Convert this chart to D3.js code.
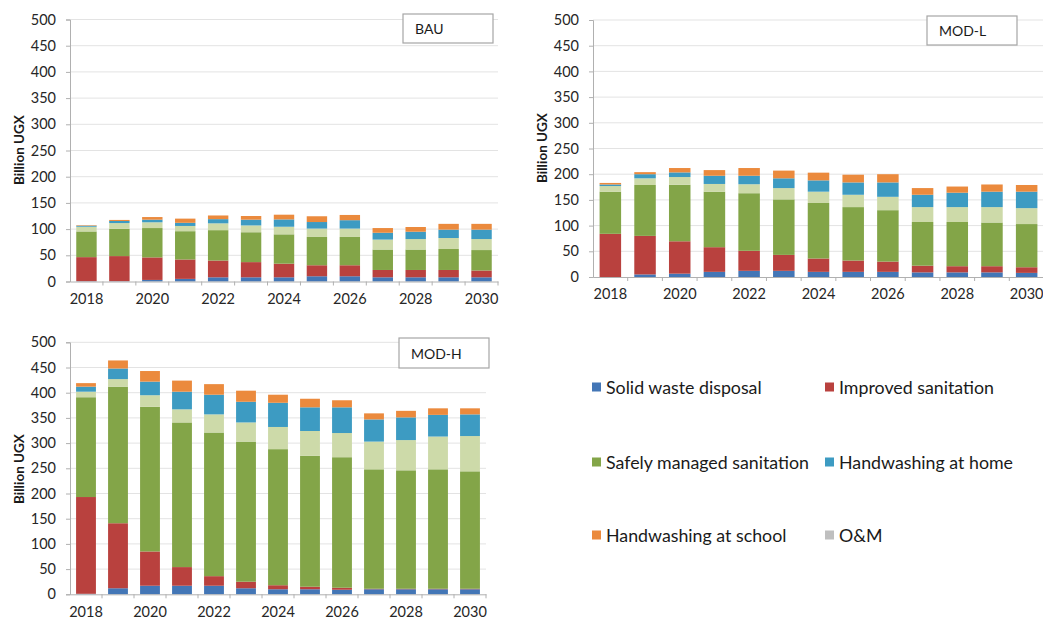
<!DOCTYPE html>
<html>
<head>
<meta charset="utf-8">
<script src="https://cdn.jsdelivr.net/npm/d3@7"></script>
<style>
  html, body { margin: 0; padding: 0; background: #fff; }
  svg { display: block; font-family: Lato, "Open Sans", sans-serif; }
</style>
</head>
<body>
<svg id="chart" width="1043" height="625"></svg>
<script>
// ---------- data ----------
const years = [2018, 2019, 2020, 2021, 2022, 2023, 2024, 2025, 2026, 2027, 2028, 2029, 2030];
const yearLabels = [2018, 2020, 2022, 2024, 2026, 2028, 2030];
const yTicks = [0, 50, 100, 150, 200, 250, 300, 350, 400, 450, 500];
const seriesNames = ["Solid waste disposal", "Improved sanitation", "Safely managed sanitation", "O&M", "Handwashing at home", "Handwashing at school"];
const scenarioNames = ["BAU", "MOD-L", "MOD-H"];

// BAU
const bauSolidWaste = [0.5, 0.5, 3, 5, 8, 8, 8, 10, 10, 8, 8, 8, 8];
const bauImproved   = [46, 48, 43, 37, 32, 29, 26, 21, 21, 14, 14, 14, 13];
const bauSafely     = [49, 52, 56, 54, 58, 57, 56, 54, 54, 39, 39, 40, 39];
const bauOM         = [9, 11, 11, 10, 13, 13, 14.5, 16, 16, 19, 20, 21, 21];
const bauHome       = [2, 4, 5, 6, 8, 11, 14, 12.5, 16, 13, 14, 16, 18];
const bauSchool     = [1, 2, 5, 8, 7, 7, 9, 11, 10, 9, 9, 11, 11];

// MOD-L
const modlSolidWaste = [0, 5, 6.5, 10, 12, 12, 10, 10, 10, 9, 9, 9, 8];
const modlImproved   = [84, 75, 63, 48, 39, 31, 26, 22, 20, 13, 12, 12, 11];
const modlSafely     = [82, 99, 110, 108, 112, 108, 108, 104, 100, 85, 86, 85, 84];
const modlOM         = [11, 13, 15, 15, 17.5, 22, 22, 24, 26, 29, 29, 30, 31];
const modlHome       = [3, 8, 9, 16, 16.5, 19, 22, 24, 28, 24, 28, 30, 32];
const modlSchool     = [3, 4, 8.5, 11, 15, 15, 15, 15, 16, 13, 12, 14, 13];

// MOD-H
const modhSolidWaste = [1, 12, 17, 17, 17, 12, 10, 10, 9, 10, 10, 10, 10];
const modhImproved   = [192, 129, 68, 37, 19, 13, 8, 5, 4, 1, 1, 1, 1];
const modhSafely     = [198, 271, 287, 287, 285, 278, 270, 260, 259, 237, 235, 237, 233];
const modhOM         = [11, 15, 23, 26, 36, 38, 44, 49, 48, 55, 60, 65, 70];
const modhHome       = [10, 21, 27, 35, 39, 41, 48, 47, 51, 44, 45, 43, 43];
const modhSchool     = [7, 16, 21, 22, 21, 22, 16, 17, 14, 12, 13, 13, 12];

// ---------- styles ----------
const barColors = {
  "Solid waste disposal": "#4376b6",
  "Improved sanitation": "#b9413e",
  "Safely managed sanitation": "#83a548",
  "O&M": "#cddaa9",
  "Handwashing at home": "#3d9bc2",
  "Handwashing at school": "#eb8a3d"
};
const legendColors = Object.assign({}, barColors, { "O&M": "#bfbfbf" });

const scenarioSeries = {
  "BAU":   [bauSolidWaste, bauImproved, bauSafely, bauOM, bauHome, bauSchool],
  "MOD-L": [modlSolidWaste, modlImproved, modlSafely, modlOM, modlHome, modlSchool],
  "MOD-H": [modhSolidWaste, modhImproved, modhSafely, modhOM, modhHome, modhSchool]
};

const panels = [
  { name: "BAU",   x0: 70,  x1: 498,  yTop: 19.5, yBot: 281.5, titleX: 19,  titleY: 150, box: [403, 14, 90, 29] },
  { name: "MOD-L", x0: 593, x1: 1044, yTop: 20,   yBot: 277,   titleX: 542, titleY: 148, box: [927, 16, 90, 29] },
  { name: "MOD-H", x0: 70,  x1: 486,  yTop: 342.3, yBot: 594.3, titleX: 19, titleY: 469, box: [399, 338, 90, 30] }
];

const svg = d3.select("#chart");

panels.forEach(p => {
  const series = scenarioSeries[p.name];
  const rows = years.map((yr, i) => {
    const r = { year: yr };
    seriesNames.forEach((s, k) => { r[s] = series[k][i]; });
    return r;
  });
  const stacked = d3.stack().keys(seriesNames)(rows);

  const x = d3.scaleBand().domain(years).range([p.x0, p.x1]).paddingInner(0.38).paddingOuter(0.19);
  const y = d3.scaleLinear().domain([0, 500]).range([p.yBot, p.yTop]);

  const g = svg.append("g");

  // gridlines
  g.append("g").selectAll("line").data(yTicks.filter(t => t > 0)).join("line")
    .attr("x1", p.x0).attr("x2", p.x1)
    .attr("y1", d => y(d)).attr("y2", d => y(d))
    .attr("stroke", "#e3e3e3").attr("stroke-width", 1);

  // bars
  g.append("g").selectAll("g").data(stacked).join("g")
    .attr("fill", d => barColors[d.key])
    .selectAll("rect").data(d => d).join("rect")
    .attr("x", d => x(d.data.year))
    .attr("width", x.bandwidth())
    .attr("y", d => y(d[1]))
    .attr("height", d => Math.max(0, y(d[0]) - y(d[1])));

  // y axis
  const yAxis = d3.axisLeft(y).tickValues(yTicks).tickSize(4).tickPadding(10);
  const ya = g.append("g").attr("transform", `translate(${p.x0},0)`).call(yAxis);
  ya.select(".domain").attr("stroke", "#b0b0b0");
  ya.selectAll(".tick line").attr("stroke", "#b0b0b0");
  ya.selectAll("text").attr("font-size", 14.5).attr("fill", "#262626")
    .attr("font-family", "Lato, 'Open Sans', sans-serif");

  // x axis
  const xAxis = d3.axisBottom(x).tickValues(yearLabels).tickSize(0).tickPadding(12);
  const xa = g.append("g").attr("transform", `translate(0,${p.yBot})`).call(xAxis);
  xa.select(".domain").attr("stroke", "#b0b0b0");
  xa.selectAll("text").attr("font-size", 14.5).attr("fill", "#262626")
    .attr("font-family", "Lato, 'Open Sans', sans-serif");

  // category boundary ticks
  const step = x.step();
  g.append("g").selectAll("line").data(years).join("line")
    .attr("x1", d => x(d) + x.bandwidth() / 2 + step / 2)
    .attr("x2", d => x(d) + x.bandwidth() / 2 + step / 2)
    .attr("y1", p.yBot).attr("y2", p.yBot + 4)
    .attr("stroke", "#b0b0b0");

  // y title
  g.append("text")
    .attr("transform", `translate(${p.titleX},${p.titleY}) rotate(-90)`)
    .attr("text-anchor", "middle")
    .attr("dominant-baseline", "central")
    .attr("font-size", 13.5)
    .attr("font-weight", "bold")
    .attr("fill", "#1a1a1a")
    .text("Billion UGX");

  // scenario label box
  g.append("rect")
    .attr("x", p.box[0]).attr("y", p.box[1]).attr("width", p.box[2]).attr("height", p.box[3])
    .attr("fill", "#fff").attr("stroke", "#a6a6a6").attr("stroke-width", 1.2);
  g.append("text")
    .attr("x", p.box[0] + 12).attr("y", p.box[1] + p.box[3] / 2)
    .attr("dominant-baseline", "central")
    .attr("font-size", 14).attr("fill", "#1a1a1a")
    .text(p.name);
});

// legend
const legendOrder = ["Solid waste disposal", "Improved sanitation", "Safely managed sanitation", "Handwashing at home", "Handwashing at school", "O&M"];
const legendCols = [592, 825];
const legendRows = [387, 462, 535];
const lg = svg.append("g");
legendOrder.forEach((name, i) => {
  const cx = legendCols[i % 2];
  const cy = legendRows[Math.floor(i / 2)];
  lg.append("rect").attr("x", cx).attr("y", cy - 4.5).attr("width", 9).attr("height", 9)
    .attr("fill", legendColors[name]);
  lg.append("text").attr("x", cx + 14).attr("y", cy)
    .attr("dominant-baseline", "central")
    .attr("font-size", 17.8).attr("fill", "#1a1a1a")
    .text(name);
});
</script>
</body>
</html>
